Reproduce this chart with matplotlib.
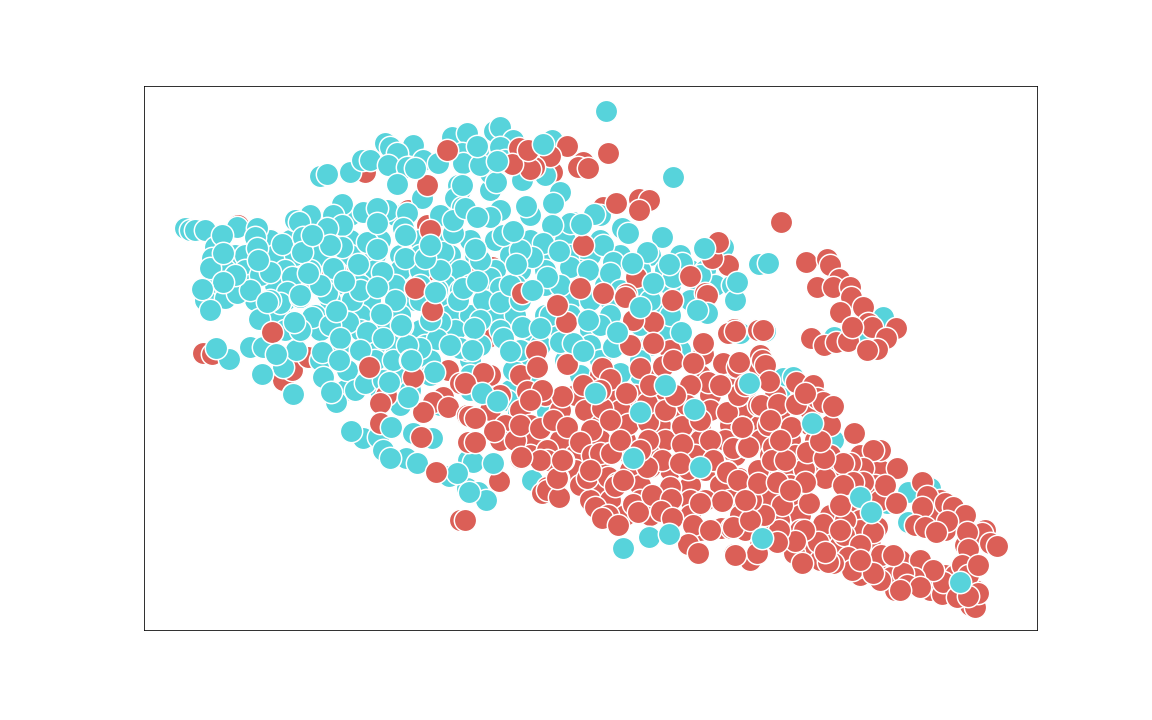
import numpy as np
import matplotlib
matplotlib.use("Agg")
import matplotlib.pyplot as plt

RED = "#db5f57"
TEAL = "#57d3db"

# points, listed in the order they get painted
red_under = [(365,172),(408,210),(427,225),(238,225),(203,353),(212,354),(283,380),(292,370),(308,357),(342,347),
             (297,333),(370,350),(427,347),(448,370),(465,317),(432,310),(328,265),(353,265),(363,278),(437,280),(468,272),
             (488,337),(470,272),(492,267),(552,172),(603,207),(562,238)]

teal_fill = [(270,240),(290,240),(315,240),(350,240),(380,240),(420,240),(445,240),(470,240),(495,240),(530,240),(565,240),(600,240),
             (235,255),(245,255),(275,255),(295,255),(320,255),(350,255),(375,255),(400,255),(420,255),(450,255),(475,255),(510,255),
             (540,255),(570,255),(590,255),(620,255),(650,255),(680,255),(225,270),(245,270),(285,270),(310,270),(335,270),(375,270),
             (400,270),(420,270),(460,270),(495,270),(520,270),(545,270),(580,270),(640,270),(665,270),(690,270),(705,270),
             (215,285),(225,285),(250,285),(275,285),(300,285),(335,285),(360,285),(395,285),(420,285),(445,285),(470,285),(515,285),
             (545,285),(605,285),(640,285),(670,285),(700,285),(715,285),(205,300),(225,298),(255,300),(285,300),(330,300),(370,300),
             (415,300),(450,300),(490,300),(510,300),(570,300),(610,300),(690,300),(280,315),(315,315),(340,315),(360,315),(400,315),
             (450,315),(470,315),(495,315),(515,315),(545,315),(570,315),(610,315),(660,315),(285,330),(320,330),(360,330),(385,330),
             (420,330),(455,330),(500,330),(530,330),(560,330),(590,330),(665,330),(340,345),(375,345),(395,345),(425,345),(480,345),
             (540,345),(565,345),(590,345),(650,345),(320,360),(375,360),(430,360),(470,360),(525,360),(565,360),(600,360),(640,360),
             (350,375),(400,375),(430,375),(470,375),(530,375),(580,375),(640,375),(345,390),(380,390),(410,390),(470,390),(510,390),
             (660,390),(400,405),(440,405),(520,405),(480,150),(500,150),(520,150),(460,190),(490,190),(310,215),(350,215),(395,215),
             (440,215),(530,215),(600,215)]

teal_main = [(320,176),(327,174),(350,172),(362,160),(370,160),(385,143),(390,147),(413,145),(397,153),(388,165),(407,167),
             (423,160),(438,163),(397,184),(452,137),(467,133),(462,153),(463,163),(458,185),(455,198),(462,207),(422,198),
             (185,228),(190,230),(195,230),(205,230),(237,227),(257,228),(255,237),(257,248),(215,247),(212,258),(210,268),
             (260,275),(270,272),(282,244),(295,220),(299,222),(303,237),(342,204),(333,215),(342,225),(327,228),(363,212),
             (387,210),(407,213),(403,228),(367,242),(342,247),(330,245),(333,268),(302,252),(292,277),(382,272),(405,258),
             (443,252),(453,233),(453,220),(437,290),(460,290),(327,293),(287,292),(237,293),(280,303),(300,297),(312,317),
             (259,319),(352,300),(348,322),(367,332),(402,326),(458,300),(440,322),(437,339),(250,347),(263,347),(229,359),
             (283,367),(293,394),(296,350),(322,352),(347,370),(323,377),(336,402),(355,390),(365,383),(383,380),(393,360),
             (420,348),(407,345),(383,338),(434,372),(467,350),(460,348),(363,438),(378,437),(413,433),(432,438),(383,450),
             (406,458),(417,463),(450,476),(457,473),(467,488),(468,460),(494,131),(500,127),(513,140),(500,147),(552,140),
             (490,173),(496,182),(522,180),(545,175),(462,185),(560,192),(553,203),(526,206),(500,210),(465,208),(490,217),
             (573,222),(570,223),(552,225),(594,214),(622,228),(662,237),(503,235),(543,243),(603,245),(647,252),(613,262),
             (682,263),(723,247),(732,285),(735,300),(759,264),(768,263),(532,257),(570,267),(588,270),(610,273),(673,277),
             (490,278),(500,288),(560,285),(463,288),(700,275),(483,300),(500,302),(522,327),(503,338),(560,342),(573,343),
             (513,370),(507,400),(613,347),(620,373),(518,413),(547,412),(473,462),(449,476),(457,473),(478,492),(486,500),
             (532,480),(469,492),(480,260),(520,250),(440,270),(420,300),(395,300),(360,290),(320,285),(270,300),(250,290),
             (480,320),(520,300),(550,315),(590,300),(620,290),(650,300),(600,325),(430,320),(450,345),(410,360),(360,350),
             (330,325),(300,330),(520,350),(490,390),(640,325),(670,315),(680,350),(505,160),(480,165),(510,285)]

red_fill = [(670,350),(490,375),(520,375),(600,375),(655,375),(700,375),(730,375),(500,395),(545,395),(575,395),(610,395),(635,395),
            (660,395),(710,395),(745,395),(775,395),(490,410),(520,410),(560,410),(585,410),(620,410),(655,410),(675,410),(710,410),
            (745,410),(780,410),(810,410),(505,425),(530,425),(600,425),(660,425),(700,425),(730,425),(760,425),(810,425),(830,425),
            (500,440),(530,440),(560,440),(600,440),(625,440),(665,440),(700,440),(725,440),(760,440),(790,440),(815,440),(530,455),
            (575,455),(630,455),(650,455),(695,455),(735,455),(770,455),(795,455),(830,455),(860,455),(575,470),(600,470),(630,470),
            (670,470),(705,470),(760,470),(785,470),(815,470),(840,470),(880,470),(580,485),(600,485),(640,485),(690,485),(720,485),
            (760,485),(790,485),(825,478),(875,485),(590,500),(610,500),(640,500),(690,500),(730,500),(770,500),(800,500),(860,510),
            (880,500),(940,500),(625,515),(650,515),(690,515),(740,515),(760,515),(800,515),(830,515),(860,520),(930,515),(950,515),
            (700,530),(745,530),(770,530),(800,530),(830,530),(860,530),(945,530),(985,530),(760,545),(790,545),(810,545),(840,545),
            (870,545),(965,545),(750,560),(820,560),(870,560),(900,560),(860,575),(880,575),(945,575),(955,575),(895,590),(930,590),
            (955,590),(975,590),(970,605)]

red_main = [(447,150),(427,185),(430,230),(415,288),(272,332),(432,310),(369,367),(413,377),(386,395),(380,403),(380,423),
            (460,383),(443,397),(433,402),(448,407),(423,412),(467,415),(421,437),(468,442),(436,472),(567,146),(519,148),
            (550,156),(534,167),(530,169),(512,164),(528,150),(583,162),(578,167),(588,168),(608,153),(616,203),(639,199),
            (649,200),(639,210),(583,245),(636,277),(690,276),(728,265),(712,258),(718,242),(580,288),(603,293),(626,294),
            (705,293),(522,293),(566,322),(557,305),(625,297),(653,322),(633,320),(672,300),(707,295),(630,345),(653,343),
            (703,354),(703,343),(734,329),(728,333),(758,330),(536,351),(537,367),(567,364),(483,373),(465,383),(527,391),
            (562,396),(542,390),(602,368),(610,379),(640,368),(663,366),(673,360),(693,363),(735,367),(723,363),(758,365),
            (708,382),(690,385),(626,393),(583,385),(602,408),(738,395),(687,405),(758,405),(727,412),(469,416),(475,418),
            (494,431),(475,442),(515,440),(520,425),(540,428),(553,420),(567,427),(591,430),(580,442),(628,424),(648,422),
            (648,440),(610,420),(682,426),(682,444),(710,440),(742,427),(733,448),(747,447),(547,450),(547,460),(540,460),
            (563,460),(592,455),(610,453),(520,458),(587,478),(608,477),(617,483),(650,467),(662,460),(688,469),(680,463),
            (726,471),(739,478),(499,481),(558,478),(547,487),(670,487),(713,460),(758,470),(647,403),(460,520),(465,520),
            (521,457),(542,493),(547,490),(559,497),(557,478),(562,460),(600,453),(611,453),(615,486),(595,507),(608,515),
            (602,518),(618,525),(633,504),(638,512),(652,495),(671,499),(661,511),(672,518),(647,467),(705,500),(722,501),
            (693,525),(721,528),(731,528),(688,544),(698,553),(734,554),(710,530),(700,503),(623,480),(727,472),(781,222),
            (806,262),(827,259),(830,265),(817,287),(839,279),(833,287),(850,287),(851,297),(863,307),(840,312),(811,338),
            (824,345),(836,342),(848,341),(868,323),(872,327),(896,328),(886,338),(877,349),(867,350),(852,327),(763,330),
            (735,331),(760,355),(762,360),(765,365),(737,367),(739,362),(769,381),(796,382),(813,385),(738,395),(761,405),
            (778,404),(796,404),(817,398),(823,402),(833,406),(805,393),(854,433),(880,450),(873,450),(897,468),(863,468),
            (850,463),(843,463),(885,485),(863,482),(853,482),(843,485),(922,482),(927,496),(945,503),(953,507),(965,515),
            (947,521),(922,507),(896,503),(915,525),(925,527),(936,532),(982,533),(990,543),(997,546),(967,532),(968,549),
            (962,565),(968,575),(978,565),(975,607),(978,593),(942,594),(943,582),(920,560),(933,570),(914,578),(891,577),
            (880,580),(903,573),(907,585),(920,587),(957,597),(881,555),(893,555),(877,527),(873,532),(845,520),(840,505),
            (844,535),(860,545),(848,557),(858,567),(852,570),(833,563),(828,562),(873,573),(823,524),(818,542),(825,552),
            (804,530),(794,553),(802,563),(795,541),(809,503),(779,520),(779,530),(777,542),(782,505),(764,515),(757,553),
            (735,555),(751,500),(738,480),(758,483),(777,482),(804,469),(805,482),(807,452),(824,458),(820,441),(791,427),
            (773,447),(772,460),(748,447),(742,427),(768,425),(733,527),(968,596),(700,420),(665,410),(620,440),(590,470),
            (640,450),(770,420),(785,460),(790,490),(750,520),(745,500),(840,530),(900,590),(860,560),(530,400),
            (600,390),(650,385),(675,395),(720,385),(745,385),(780,440)]

teal_top = [(415,168),(222,235),(223,253),(258,260),(235,275),(223,282),(202,289),(312,235),(377,208),(377,223),(405,235),
            (377,249),(358,264),(308,273),(344,281),(425,258),(430,245),(377,287),(435,292),(300,295),(210,310),(267,302),
            (294,322),(336,311),(381,314),(340,338),(216,348),(276,354),(262,374),(293,394),(339,360),(331,392),(389,382),
            (411,360),(408,397),(351,431),(391,427),(390,458),(606,111),(673,177),(477,146),(543,144),(497,161),(477,217),
            (581,224),(628,233),(513,231),(475,249),(559,251),(632,263),(669,264),(704,248),(737,282),(516,264),(547,277),
            (653,283),(477,281),(532,290),(640,307),(707,313),(697,310),(588,320),(617,332),(681,332),(474,328),(472,350),
            (510,351),(540,328),(583,351),(482,393),(497,401),(595,393),(665,385),(694,409),(749,383),(640,412),(633,458),
            (493,463),(700,467),(649,537),(669,534),(623,548),(812,423),(860,497),(871,512),(960,582),(762,538),(401,325)]

teal_under = [(833,440),(908,492),(930,488),(908,522),(887,503),(790,503),(883,317),(834,337),(858,337),(757,330),(765,331),
              (740,333),(750,383),(783,378),(793,377),(780,397),(700,467)]


def draw_layer(ax, points, color):
    pts = np.array(points)
    ax.scatter(pts[:, 0], pts[:, 1], s=500, c=color, edgecolors="white", linewidths=1.5)


fig, ax = plt.subplots(figsize=(16, 10), dpi=72)
fig.subplots_adjust(bottom=0.125)
draw_layer(ax, red_under, RED)
draw_layer(ax, teal_fill, TEAL)
draw_layer(ax, teal_main, TEAL)
draw_layer(ax, teal_under, TEAL)
draw_layer(ax, red_fill, RED)
draw_layer(ax, red_main, RED)
draw_layer(ax, teal_top, TEAL)

ax.set_xlim(144, 1037)
ax.set_ylim(630, 86)
ax.set_xticks([])
ax.set_yticks([])
plt.savefig("out.png")
